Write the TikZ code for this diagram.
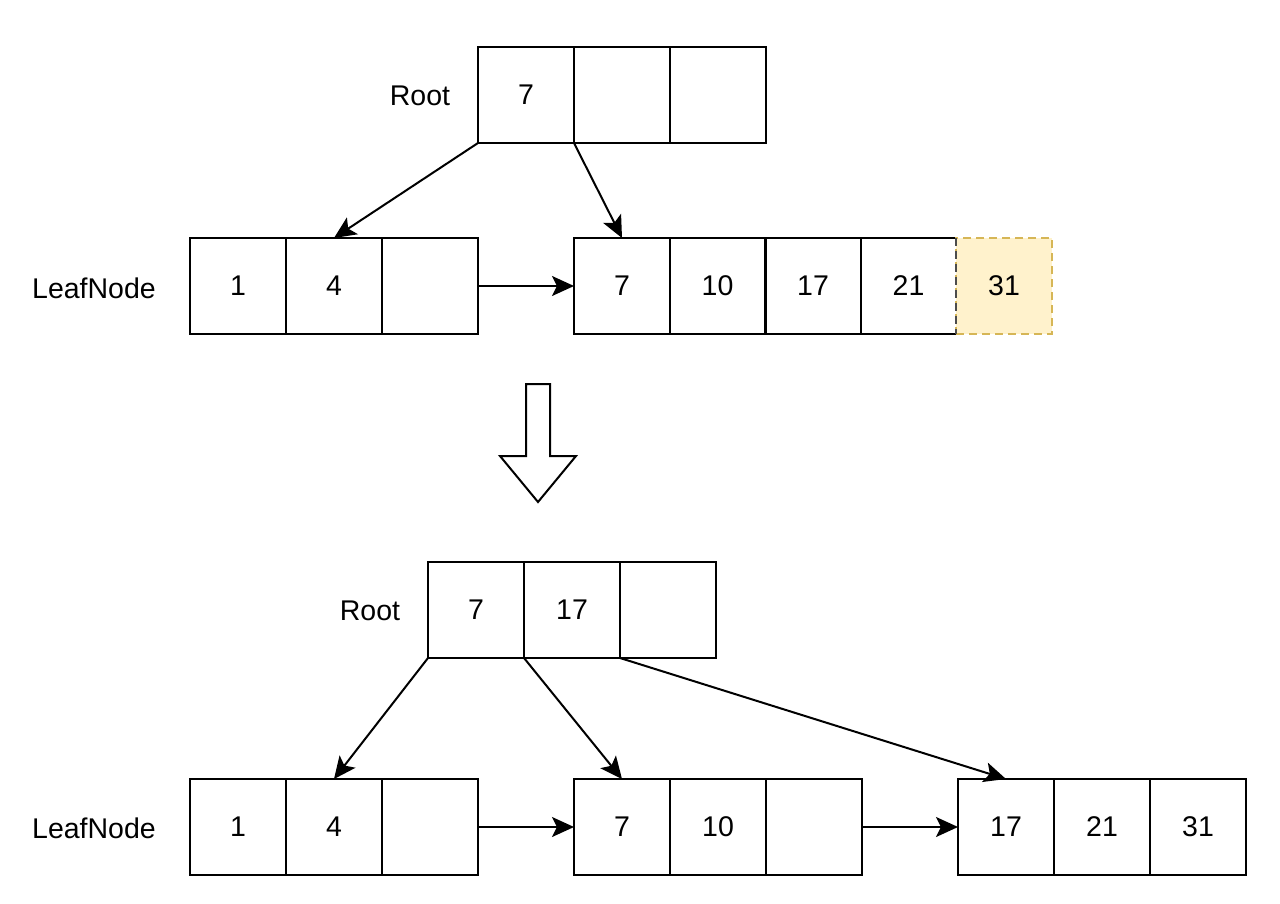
\documentclass[tikz,border=0pt]{standalone}
\usepackage{fontspec}
\setmainfont{Liberation Sans}
\usetikzlibrary{arrows.meta}
\definecolor{noteFill}{HTML}{FFF2CC}
\definecolor{noteDraw}{HTML}{D6B656}
\begin{document}
\begin{tikzpicture}[x=1pt,y=-1pt,
  cell/.style={draw=black, line width=2pt, minimum width=96pt, minimum height=96pt, inner sep=0pt, outer sep=0pt, font=\fontsize{28.5}{32}\selectfont},
  newcell/.style={cell, draw=noteDraw, fill=noteFill, dash pattern=on 8pt off 5pt},
  lbl/.style={inner sep=0pt, font=\fontsize{28.5}{32}\selectfont},
  conn/.style={line width=2pt, -{Stealth[length=22pt,width=20pt,inset=5pt]}},
  bigarrow/.style={draw=black, fill=white, line width=2pt, line join=miter}
]
\useasboundingbox (0,0) rectangle (1280,904);

% ---- top: before split ----
\node[lbl] (rootlblA) at (420,96) {Root};
\node[cell] (ra1) at (526,95) {7};
\node[cell] (ra2) at (622,95) {};
\node[cell] (ra3) at (718,95) {};

\node[lbl] (leaflblA) at (94,288) {LeafNode};
\node[cell] (la1) at (238,286) {1};
\node[cell] (la2) at (334,286) {4};
\node[cell] (la3) at (430,286) {};

\node[cell] (ma1) at (622,286) {7};
\node[cell] (ma2) at (717.5,286) {10};
\node[cell] (ma3) at (813,286) {17};
\node[cell] (ma4) at (908.5,286) {21};
\node[newcell] (ma5) at (1004,286) {31};
\draw[draw=black!70, line width=1.5pt, dash pattern=on 8pt off 5pt] (ma5.north west) -- (ma5.south west);

\draw[conn] (ra1.south west) -- (la2.north);
\draw[conn] (ra1.south east) -- (ma1.north);
\draw[conn] (la3.east) -- (ma1.west);

% ---- big down arrow ----
\draw[bigarrow] (526,384) -- (550,384) -- (550,456) -- (576,456) -- (538,502) -- (500,456) -- (526,456) -- cycle;

% ---- bottom: after split ----
\node[lbl] (rootlblB) at (370,611) {Root};
\node[cell] (rb1) at (476,610) {7};
\node[cell] (rb2) at (572,610) {17};
\node[cell] (rb3) at (668,610) {};

\node[lbl] (leaflblB) at (94,828) {LeafNode};
\node[cell] (lb1) at (238,827) {1};
\node[cell] (lb2) at (334,827) {4};
\node[cell] (lb3) at (430,827) {};

\node[cell] (mb1) at (622,827) {7};
\node[cell] (mb2) at (718,827) {10};
\node[cell] (mb3) at (814,827) {};

\node[cell] (nb1) at (1006,827) {17};
\node[cell] (nb2) at (1102,827) {21};
\node[cell] (nb3) at (1198,827) {31};

\draw[conn] (rb1.south west) -- (lb2.north);
\draw[conn] (rb1.south east) -- (mb1.north);
\draw[conn] (rb2.south east) -- (nb1.north);
\draw[conn] (lb3.east) -- (mb1.west);
\draw[conn] (mb3.east) -- (nb1.west);
\end{tikzpicture}
\end{document}
